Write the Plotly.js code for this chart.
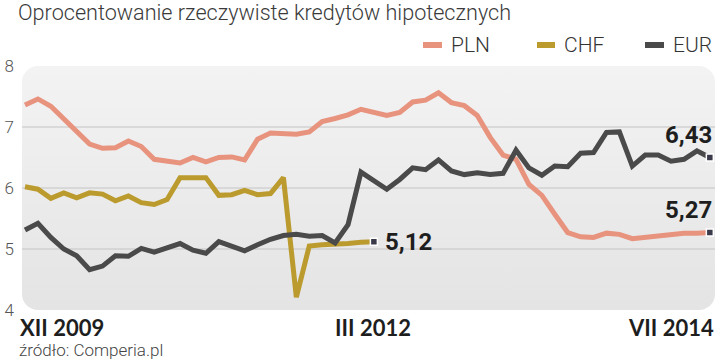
<!DOCTYPE html>
<html>
<head>
<meta charset="utf-8">
<script src="https://cdn.plot.ly/plotly-3.0.1.min.js"></script>
<style>
html,body{margin:0;padding:0;background:#fff;}
#chart{width:720px;height:362px;}
</style>
</head>
<body>
<div id="chart"></div>
<script>
// ---- data ----
const seriesNames = ["PLN", "CHF", "EUR"];
const seriesColors = ["#e8937e", "#bb9a2e", "#4a4a4a"];

const pln = [7.36, 7.46, 7.34, 7.13, 6.92, 6.72, 6.65, 6.66, 6.77, 6.68,
             6.47, 6.44, 6.41, 6.50, 6.43, 6.50, 6.51, 6.46, 6.80, 6.90,
             6.90, 6.88, 6.92, 7.09, 7.14, 7.20, 7.29, 7.23, 7.19, 7.24,
             7.41, 7.44, 7.56, 7.40, 7.35, 7.19, 6.83, 6.54, 6.47, 6.06,
             5.88, 5.57, 5.27, 5.20, 5.19, 5.26, 5.24, 5.17, 5.19, 5.21,
             5.25, 5.26, 5.26, 5.27];

const chf = [6.02, 5.98, 5.83, 5.92, 5.84, 5.92, 5.90, 5.79, 5.87, 5.76,
             5.73, 5.81, 6.17, 6.17, 6.17, 5.88, 5.89, 5.96, 5.89, 5.91,
             6.17, 4.21, 5.05, 5.07, 5.07, 5.09, 5.11, 5.12];

const eur = [5.31, 5.42, 5.19, 5.00, 4.89, 4.66, 4.72, 4.89, 4.88, 5.01,
             4.95, 5.01, 5.09, 4.98, 4.93, 5.12, 5.05, 4.97, 5.07, 5.16,
             5.22, 5.24, 5.21, 5.22, 5.10, 5.40, 6.26, 6.12, 5.98, 6.14,
             6.33, 6.30, 6.46, 6.28, 6.22, 6.25, 6.22, 6.24, 6.62, 6.33,
             6.21, 6.36, 6.35, 6.57, 6.58, 6.91, 6.92, 6.36, 6.54, 6.54,
             6.44, 6.47, 6.61, 6.50];

const endLabels = ["5,27", "5,12", "6,43"];          // PLN, CHF, EUR
const xTickPos = [0, 27, 53];
const xTickText = ["XII 2009", "III 2012", "VII 2014"];
const yTickVals = [4, 5, 6, 7, 8];
const gridVals = [5, 6, 7];
const titleText = "Oprocentowanie rzeczywiste kredytów hipotecznych";
const sourceText = "źródło: Comperia.pl";

// ---- layout geometry ----
const W = 720, H = 362;
const M = {l: 22, r: 5, t: 66, b: 52};
const PW = W - M.l - M.r, PH = H - M.t - M.b;
const px = x => (x - M.l) / PW;            // pixel -> paper x
const py = y => (H - M.b - y) / PH;        // pixel -> paper y

const LIGHT = "Roboto, 'Open Sans', sans-serif";
const BOLDX = "Lato, Roboto, sans-serif";
const COND = "Roboto, sans-serif";

const series = [pln, chf, eur];
const traces = [];
series.forEach((s, k) => {
  traces.push({
    y: s, type: "scatter", mode: "lines",
    line: {color: seriesColors[k], width: 5, shape: "linear"},
    hoverinfo: "skip", showlegend: false
  });
});
series.forEach((s, k) => {
  traces.push({
    x: [s.length - 1], y: [s[s.length - 1]], type: "scatter", mode: "markers",
    marker: {symbol: "square", size: 7, color: "#3a3a4a", line: {color: "#ffffff", width: 1.5}},
    hoverinfo: "skip", showlegend: false
  });
});

// rounded gradient background as an inline svg image
const bgSvg = `<svg xmlns='http://www.w3.org/2000/svg' width='${PW}' height='${PH}' viewBox='0 0 ${PW} ${PH}'>` +
  `<defs><linearGradient id='g' x1='0' y1='0' x2='0' y2='1'>` +
  `<stop offset='0' stop-color='#f3f3f3'/><stop offset='1' stop-color='#e4e4e4'/></linearGradient></defs>` +
  `<rect x='0' y='0' width='${PW}' height='${PH}' rx='16' ry='16' fill='url(#g)'/></svg>`;
const bgSrc = "data:image/svg+xml;charset=utf-8," + encodeURIComponent(bgSvg);

const shapes = gridVals.map(v => ({
  type: "line", xref: "paper", yref: "y", x0: 0, x1: 1, y0: v, y1: v,
  line: {color: "#c4c4c4", width: 1}, layer: "below"
}));

const annotations = [];
// legend
const legendSeg = [[423, 442], [537, 555], [645, 664]];
const legendTextX = [449, 562, 671];
const legendY = 45;
seriesNames.forEach((n, k) => {
  shapes.push({
    type: "line", xref: "paper", yref: "paper",
    x0: px(legendSeg[k][0]), x1: px(legendSeg[k][1]), y0: py(legendY), y1: py(legendY),
    line: {color: seriesColors[k], width: 6}
  });
  annotations.push({
    xref: "paper", yref: "paper", x: px(legendTextX[k]), y: py(legendY),
    xanchor: "left", yanchor: "middle", showarrow: false, text: n,
    font: {family: LIGHT, size: 21, weight: 300, color: "#333333"}
  });
});
// x labels
const xAnch = ["left", "center", "right"];
const xSh = [-7, -1, 6];
xTickPos.forEach((p, k) => {
  annotations.push({
    xref: "x", yref: "paper", x: p, y: 0, xanchor: xAnch[k], yanchor: "top",
    xshift: xSh[k], yshift: -2, showarrow: false, text: xTickText[k],
    font: {family: BOLDX, size: 22, weight: 700, color: "#1e1e1e"}
  });
});
// end labels
annotations.push({
  xref: "x", yref: "y", x: pln.length - 1, y: pln[pln.length - 1],
  xanchor: "right", yanchor: "bottom", xshift: 4, yshift: 7, showarrow: false,
  text: endLabels[0], font: {family: COND, size: 24, weight: 700, color: "#1e1e1e"}
});
annotations.push({
  xref: "x", yref: "y", x: chf.length - 1, y: chf[chf.length - 1],
  xanchor: "left", yanchor: "middle", xshift: 9, yshift: 0, showarrow: false,
  text: endLabels[1], font: {family: COND, size: 24, weight: 700, color: "#1e1e1e"}
});
annotations.push({
  xref: "x", yref: "y", x: eur.length - 1, y: eur[eur.length - 1],
  xanchor: "right", yanchor: "bottom", xshift: 4, yshift: 7, showarrow: false,
  text: endLabels[2], font: {family: COND, size: 24, weight: 700, color: "#1e1e1e"}
});
// source
annotations.push({
  xref: "paper", yref: "paper", x: px(17), y: py(350), xanchor: "left", yanchor: "middle",
  showarrow: false, text: sourceText,
  font: {family: LIGHT, size: 17, weight: 300, color: "#444444"}
});

const layout = {
  width: W, height: H,
  margin: M,
  paper_bgcolor: "#ffffff", plot_bgcolor: "rgba(0,0,0,0)",
  showlegend: false,
  title: {
    text: titleText, xref: "container", yref: "container",
    x: 18 / W, xanchor: "left", y: 1 - 12 / H, yanchor: "middle",
    font: {family: LIGHT, size: 21.6, weight: 300, color: "#3a3a3a"}
  },
  xaxis: {
    range: [-0.232, 53.4], showgrid: false, zeroline: false, showline: false,
    showticklabels: false, ticks: "", fixedrange: true
  },
  yaxis: {
    range: [4, 8], tickvals: yTickVals, ticktext: yTickVals.map(String),
    showgrid: false, zeroline: false, showline: false, ticks: "",
    ticklabelstandoff: 7,
    tickfont: {family: LIGHT, size: 17, weight: 300, color: "#555555"}, fixedrange: true
  },
  images: [{
    source: bgSrc, xref: "paper", yref: "paper", x: 0, y: 1, sizex: 1, sizey: 1,
    xanchor: "left", yanchor: "top", sizing: "stretch", layer: "below"
  }],
  shapes: shapes,
  annotations: annotations
};

Plotly.newPlot("chart", traces, layout, {displayModeBar: false, staticPlot: true});
</script>
</body>
</html>
